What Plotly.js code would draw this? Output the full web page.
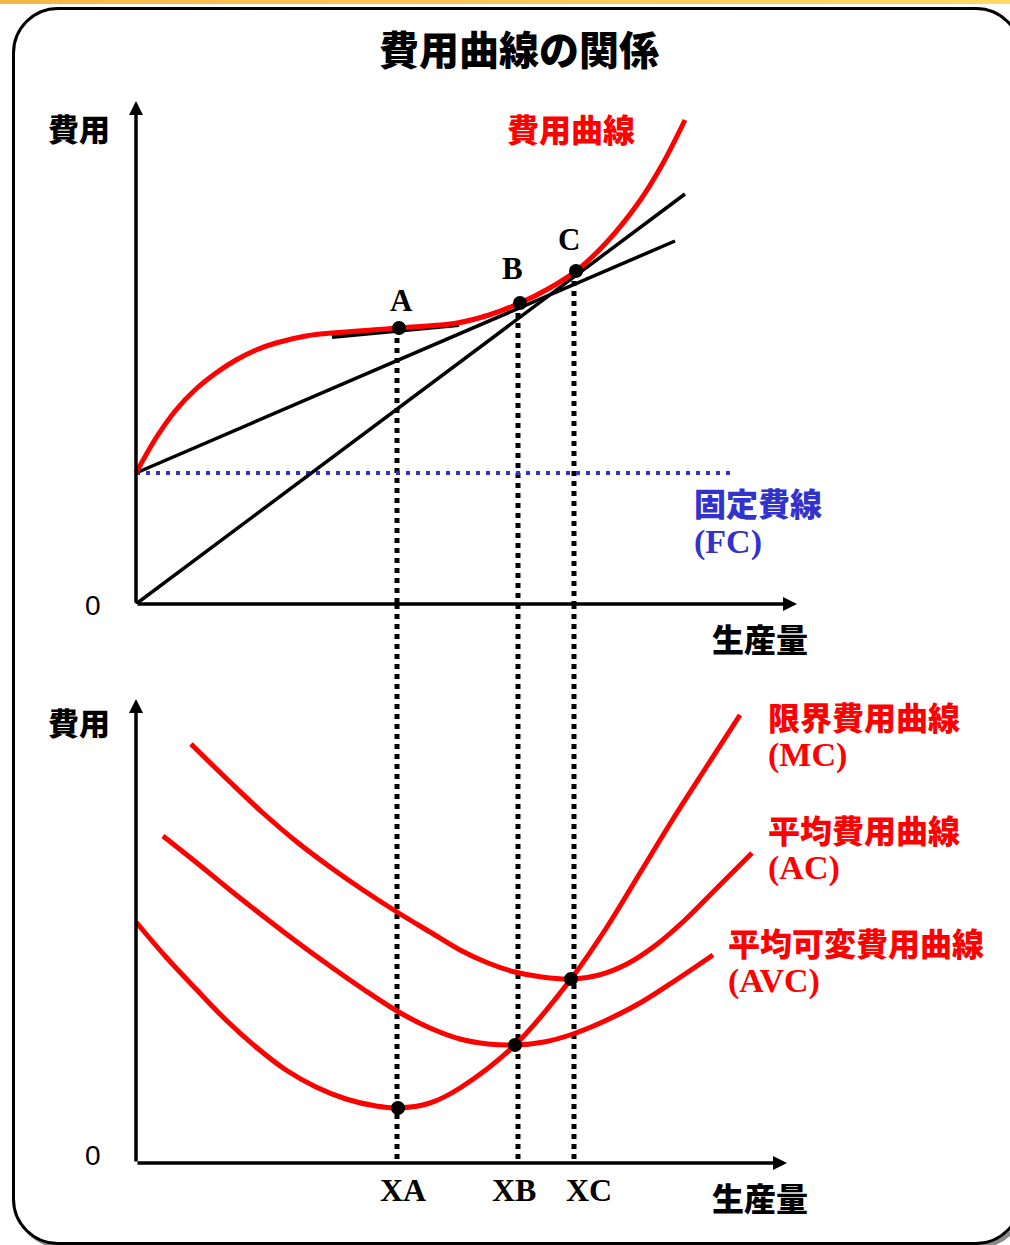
<!DOCTYPE html>
<html>
<head>
<meta charset="utf-8">
<script src="https://cdn.plot.ly/plotly-3.0.1.min.js"></script>
<style>
html,body{margin:0;padding:0;background:#fff;width:1010px;height:1245px;overflow:hidden;position:relative}
#strip{position:absolute;left:0;top:0;width:1010px;height:4px;background:linear-gradient(to right,#f5b649,#ffd96a)}
#frame{position:absolute;left:12px;top:7px;width:1004px;height:1232px;border:3px solid #000;border-radius:46px;box-shadow:3px 3px 0 #8a8a8a}
#chart{position:absolute;left:0;top:0;width:1010px;height:1245px}
</style>
</head>
<body>
<div id="strip"></div>
<div id="frame"></div>
<div id="chart"></div>
<script>
// ---------- data (q = output, cost in arbitrary units) ----------
// Upper panel: total cost curve
const tcQ = [0, 2, 4, 6, 8, 10, 12, 14, 17, 21, 26.3, 32.1, 35.3, 38.4, 41.2, 44.0, 47.0, 50.3, 52.6, 54.9];
const tcC = [13.1, 16.6, 19.4, 21.5, 23.1, 24.4, 25.4, 26.1, 26.8, 27.2, 27.6, 28.1, 28.9, 30.1, 31.5, 33.3, 36.1, 40.2, 43.9, 48.4];
// Fixed cost line
const fcQ = [0, 59.7];
const fcC = [13.1, 13.1];
// Tangent at A
const tanAQ = [19.6, 32.3];
const tanAC = [26.7, 27.9];
// Ray from FC intercept through B
const rayFCQ = [0, 53.9];
const rayFCC = [13.1, 36.3];
// Ray from origin through C
const rayOQ = [0, 54.9];
const rayOC = [0, 41.0];
// Points A, B, C on total cost curve
const ptLabels = ['A', 'B', 'C'];
const ptQ = [26.3, 38.4, 44.0];
const ptC = [27.6, 30.1, 33.3];
// Output levels XA, XB, XC
const xLabels = ['XA', 'XB', 'XC'];
const xMarks = [26.1, 38.2, 43.8];

// Lower panel: MC, AVC, AC
const mcQ = [0, 3, 6, 9, 12, 15, 18, 21, 24, 26.2, 29.4, 32.4, 37.9, 43.5, 47.1, 50.4, 53.7, 57.1, 60.4];
const mcC = [24.1, 20.6, 17.4, 14.3, 11.6, 9.3, 7.6, 6.4, 5.7, 5.5, 6.0, 7.5, 11.8, 18.4, 23.6, 29.0, 34.4, 39.7, 44.8];
const avcQ = [2.7, 6.1, 9.4, 12.7, 16.1, 19.4, 22.7, 26.1, 29.4, 32.4, 35.2, 37.9, 40.8, 43.7, 47.1, 50.4, 53.7, 57.7];
const avcC = [32.7, 30.0, 27.3, 24.7, 22.1, 19.7, 17.4, 15.2, 13.5, 12.4, 11.9, 11.8, 12.1, 12.9, 14.3, 16.0, 18.1, 20.8];
const acQ = [5.5, 9.4, 12.7, 16.1, 19.4, 22.7, 26.1, 29.4, 32.4, 35.2, 37.9, 40.6, 43.5, 46.3, 49.1, 52.0, 54.9, 57.9, 61.6];
const acC = [41.9, 38.1, 35.0, 32.1, 29.6, 27.3, 25.1, 23.1, 21.3, 20.0, 19.1, 18.6, 18.4, 18.8, 19.9, 21.8, 24.3, 27.3, 31.0];
// Intersection points in lower panel
const botQ = [26.2, 37.9, 43.5];
const botC = [5.5, 11.8, 18.4];

// ---------- layout helpers ----------
const W = 1010, H = 1245;
const px = x => x / W;
const py = y => 1 - y / H;
const split = 1 - 604 / H;           // boundary between panels
const Y2TOP = 55.9;                  // top of lower panel range

const JP = '"Noto Sans CJK JP","Noto Sans CJK SC",sans-serif';
const SERIF = '"Liberation Serif","Times New Roman",serif';
const SANS = '"Liberation Sans",Arial,sans-serif';
const RED = '#ff0000', BLUE = '#3333cc';

const traces = [];
// vertical dashed guides (upper + lower segments)
xMarks.forEach((xm, i) => {
  traces.push({x: [xm, xm], y: [ptC[i], 0], xaxis: 'x', yaxis: 'y', mode: 'lines',
    line: {color: '#000', width: 5, dash: '5px,5px'}, hoverinfo: 'skip'});
  traces.push({x: [xm, xm], y: [Y2TOP, 0], xaxis: 'x', yaxis: 'y2', mode: 'lines',
    line: {color: '#000', width: 5, dash: '5px,5px'}, hoverinfo: 'skip'});
});
traces.push({x: fcQ, y: fcC, mode: 'lines', line: {color: BLUE, width: 4, dash: '4px,6px'}});
traces.push({x: rayFCQ, y: rayFCC, mode: 'lines', line: {color: '#000', width: 3.5}});
traces.push({x: rayOQ, y: rayOC, mode: 'lines', line: {color: '#000', width: 3.5}});
traces.push({x: tanAQ, y: tanAC, mode: 'lines', line: {color: '#000', width: 4}});
traces.push({x: tcQ, y: tcC, mode: 'lines', line: {color: RED, width: 5, shape: 'spline', smoothing: 1}});
traces.push({x: ptQ, y: ptC, mode: 'markers', marker: {color: '#000', size: 14}});
// lower panel
[[mcQ, mcC], [avcQ, avcC], [acQ, acC]].forEach(([q, c]) => {
  traces.push({x: q, y: c, xaxis: 'x', yaxis: 'y2', mode: 'lines',
    line: {color: RED, width: 5, shape: 'spline', smoothing: 1}});
});
traces.push({x: botQ, y: botC, xaxis: 'x', yaxis: 'y2', mode: 'markers', marker: {color: '#000', size: 14}});

const ann = [];
function arrow(xref, yref, x, y) {
  ann.push({xref: xref, yref: yref, axref: xref, ayref: yref, x: x, y: y, ax: 0, ay: 0,
    text: '', showarrow: true, arrowhead: 2, arrowsize: 0.8, arrowwidth: 3.5, arrowcolor: '#000'});
}
// axes with arrows
arrow('x', 'y', 0, 50.3);
arrow('x', 'y', 66.1, 0);
arrow('x', 'y2', 0, 46.4);
arrow('x', 'y2', 65.1, 0);

function lab(text, x, y, font, anchor) {
  ann.push({xref: 'paper', yref: 'paper', x: px(x), y: py(y), text: text, showarrow: false,
    xanchor: anchor || 'center', yanchor: 'middle', align: anchor || 'center', font: font});
}
const jpF = (s, c) => ({family: JP, size: s, color: c || '#000', weight: 900});
const seF = (s, c) => ({family: SERIF, size: s, color: c || '#000', weight: 'bold'});
// two-line label: CJK name + Latin abbreviation
function lab2(cjk, latin, x, y, color, base) {
  const t = '<span style="font-size:32px">' + cjk + '</span><br>' +
            '<span style="font-family:Liberation Serif;font-size:34px">' + latin + '</span>';
  lab(t, x, y, jpF(base, color), 'left');
}

lab('費用', 79, 128, jpF(31));
lab('費用', 79, 722, jpF(31));
lab('0', 93, 606, {family: SANS, size: 28, color: '#000'});
lab('0', 93, 1155, {family: SANS, size: 28, color: '#000'});
lab('生産量', 760, 638, jpF(32));
lab('生産量', 760, 1197, jpF(32));
lab('費用曲線', 571, 128, jpF(32, RED));
lab2('固定費線', '(FC)', 692, 519.5, BLUE, 28.5);
lab2('限界費用曲線', '(MC)', 766, 733.5, RED, 28);
lab2('平均費用曲線', '(AC)', 766, 846.5, RED, 28);
lab2('平均可変費用曲線', '(AVC)', 726, 959, RED, 28);
const ptLabPos = [[401, 300], [512, 268], [569, 240]];
ptLabels.forEach((t, i) => lab(t, ptLabPos[i][0], ptLabPos[i][1], seF(31)));
const xLabPos = [403, 514, 589];
xLabels.forEach((t, i) => lab(t, xLabPos[i], 1190, seF(32)));

const hid = {showgrid: false, zeroline: false, showticklabels: false, showline: false, ticks: '', fixedrange: true};
const layout = {
  width: W, height: H,
  margin: {l: 0, r: 0, t: 0, b: 0, pad: 0},
  paper_bgcolor: 'rgba(0,0,0,0)', plot_bgcolor: 'rgba(0,0,0,0)',
  showlegend: false,
  title: {text: '費用曲線の関係', font: jpF(40), x: px(519), xanchor: 'center', y: py(51), yanchor: 'middle'},
  xaxis: Object.assign({}, hid, {range: [-13.6, 87.4], domain: [0, 1], anchor: 'y'}),
  yaxis: Object.assign({}, hid, {range: [0, 60.4], domain: [split, 1], anchor: 'x'}),
  yaxis2: Object.assign({}, hid, {range: [-8.2, Y2TOP], domain: [0, split], anchor: 'x'}),
  annotations: ann
};
Plotly.newPlot('chart', traces, layout, {staticPlot: true, displayModeBar: false});
</script>
</body>
</html>
